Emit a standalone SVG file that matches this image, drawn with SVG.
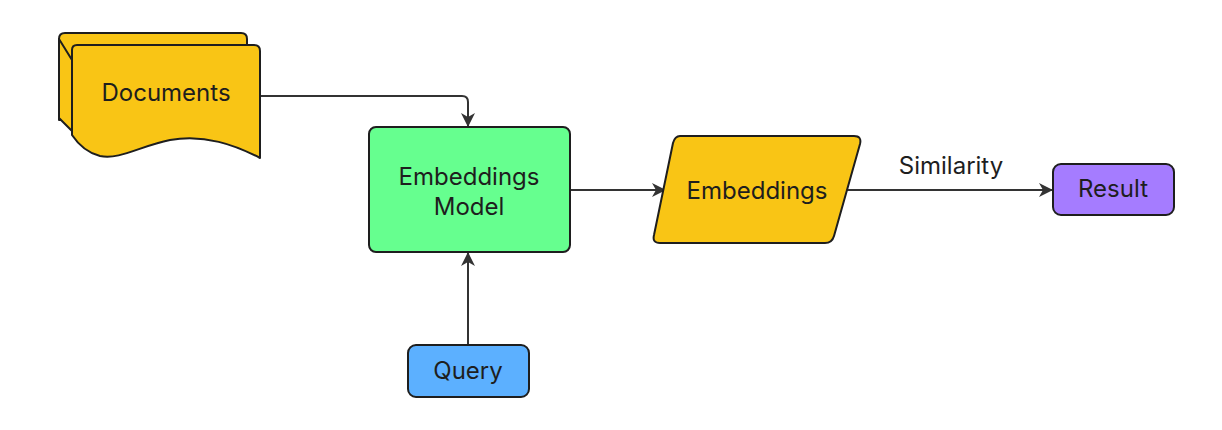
<svg xmlns="http://www.w3.org/2000/svg" width="1222" height="430" viewBox="0 0 1222 430">
<style>
.shape{stroke:#1e1e1e;stroke-width:2;stroke-linejoin:round}
.yellow{fill:#f9c515}
.green{fill:#66ff8f}
.blue{fill:#5cb0ff}
.purple{fill:#a57cff}
.lbl{font-family:Inter,"Noto Sans",sans-serif;font-size:24px;fill:#1e1e1e;text-anchor:middle;dominant-baseline:central}
.conn{fill:none;stroke:#333;stroke-width:2}
</style>
<defs>
<marker id="arr" viewBox="0 0 14 14" refX="13" refY="7" markerWidth="14" markerHeight="14" markerUnits="userSpaceOnUse" orient="auto">
<path d="M0,0 L14,7 L0,14 L4,7 Z" fill="#333"/>
</marker>
</defs>
<rect width="1222" height="430" fill="#ffffff"/>
<g id="connectors">
<path class="conn" d="M260,96 L462,96 Q468,96 468,102 L468,126" marker-end="url(#arr)"/>
<path class="conn" d="M468,345 L468,253" marker-end="url(#arr)"/>
<path class="conn" d="M570,190 L665,190" marker-end="url(#arr)"/>
<path class="conn" d="M843,190 L1052,190" marker-end="url(#arr)"/>
<text class="lbl" x="951" y="165">Similarity</text>
</g>
<g id="documents">
<path class="shape yellow" d="M65,33 L241,33 Q247,33 247,39 L247,120 L59,120 L59,118 L59,39 Q59,33 65,33 Z"/>
<path class="shape yellow" d="M59,39 L59,118 L72,131 L72,60 Z" />
<path class="shape yellow" d="M77,45 L254,45 Q260,45 260,51 L260,158 C235,145 205,134 170,140 C140,146 120,160 100,156 C88,153 78,144 72,135 L72,50 Q72,45 77,45 Z"/>
<text class="lbl" x="166" y="92">Documents</text>
</g>
<g id="embeddings-model">
<rect class="shape green" x="369" y="127" width="201" height="125" rx="7"/>
<text class="lbl" x="469" y="176">Embeddings</text>
<text class="lbl" x="469" y="206">Model</text>
</g>
<g id="query">
<rect class="shape blue" x="408" y="345" width="121" height="52" rx="8"/>
<text class="lbl" x="468" y="370">Query</text>
</g>
<g id="embeddings">
<path class="shape yellow" d="M680,136 L854,136 Q862,136 860,144 L834,236 Q832,243 825,243 L660,243 Q652,243 654,235 L673,143 Q675,136 680,136 Z"/>
<text class="lbl" x="757" y="190">Embeddings</text>
</g>
<g id="result">
<rect class="shape purple" x="1053" y="164" width="121" height="51" rx="8"/>
<text class="lbl" x="1113" y="188">Result</text>
</g>
</svg>
